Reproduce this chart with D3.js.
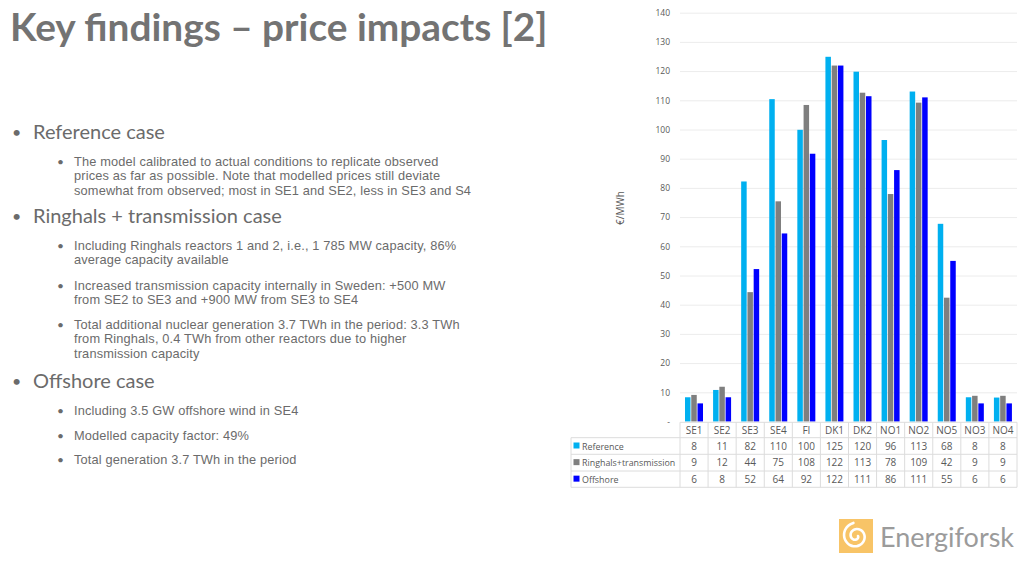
<html>
<head>
<meta charset="utf-8">
<script src="https://d3js.org/d3.v7.min.js"></script>
<style>
  body { margin: 0; background: #fff; }
  svg { display: block; font-family: Lato, "Open Sans", sans-serif; }
  .grid line { stroke: #ececec; }
  .grid .domain { stroke: none; }
  .y-axis .domain { stroke: none; }
  .y-axis text { font-size: 8.5px; fill: #595959; font-family: "Open Sans", sans-serif; }
  .tbl-line { stroke: #dcdcdc; stroke-width: 1; }
  .tbl-text { font-size: 10px; fill: #595959; font-family: "Open Sans", sans-serif; }
  .body-text { fill: #6b6b6b; }
  .sub-text { font-family: "Liberation Sans", Arial, sans-serif; letter-spacing: 0.15px; }
</style>
</head>
<body>
<svg id="slide" width="1024" height="563"></svg>
<script>
// chart data
const categories = ["SE1", "SE2", "SE3", "SE4", "FI", "DK1", "DK2", "NO1", "NO2", "NO5", "NO3", "NO4"];
const seriesNames = ["Reference", "Ringhals+transmission", "Offshore"];
const reference = [8.3, 10.8, 82.2, 110.4, 99.9, 124.9, 119.8, 96.4, 113.0, 67.7, 8.3, 8.2];
const ringhals = [9.1, 11.9, 44.3, 75.4, 108.4, 121.9, 112.6, 77.9, 109.2, 42.4, 8.8, 8.8];
const offshore = [6.2, 8.3, 52.2, 64.4, 91.7, 121.9, 111.4, 86.1, 111.0, 55.0, 6.2, 6.2];
const seriesColors = ["#00b0f0", "#7f7f7f", "#0000ff"];
const yTicks = [0, 10, 20, 30, 40, 50, 60, 70, 80, 90, 100, 110, 120, 130, 140];

// slide texts
const titleText = "Key findings \u2013 price impacts [2]";
const bullets = [
  {level: 1, y: 139, lines: ["Reference case"]},
  {level: 2, y: 166, lines: ["The model calibrated to actual conditions to replicate observed",
                             "prices as far as possible. Note that modelled prices still deviate",
                             "somewhat from observed; most in SE1 and SE2, less in SE3 and S4"]},
  {level: 1, y: 223, lines: ["Ringhals + transmission case"]},
  {level: 2, y: 250, lines: ["Including Ringhals reactors 1 and 2, i.e., 1 785 MW capacity, 86%",
                             "average capacity available"]},
  {level: 2, y: 290, lines: ["Increased transmission capacity internally in Sweden: +500 MW",
                             "from SE2 to SE3 and +900 MW from SE3 to SE4"]},
  {level: 2, y: 329, lines: ["Total additional nuclear generation 3.7 TWh in the period: 3.3 TWh",
                             "from Ringhals, 0.4 TWh from other reactors due to higher",
                             "transmission capacity"]},
  {level: 1, y: 388, lines: ["Offshore case"]},
  {level: 2, y: 415, lines: ["Including 3.5 GW offshore wind in SE4"]},
  {level: 2, y: 440, lines: ["Modelled capacity factor: 49%"]},
  {level: 2, y: 464, lines: ["Total generation 3.7 TWh in the period"]}
];

const svg = d3.select("#slide");

// title
svg.append("text")
  .attr("x", 10).attr("y", 41)
  .attr("font-size", 38.8).attr("font-weight", 700)
  .attr("fill", "#737373")
  .text(titleText);

// bullet list
bullets.forEach(b => {
  const bx = b.level === 1 ? 12 : 57;
  const tx = b.level === 1 ? 33 : 74;
  const fs = b.level === 1 ? 20 : 12.8;
  const lh = 14.4;
  svg.append("text").attr("class", "body-text")
    .attr("x", bx).attr("y", b.y - (b.level === 1 ? 1 : 0))
    .attr("font-size", b.level === 1 ? 16 : 12)
    .text("\u2022");
  // one text element per paragraph, lines as tspans
  const para = svg.append("text")
    .attr("class", b.level === 1 ? "body-text" : "body-text sub-text")
    .attr("x", tx).attr("y", b.y)
    .attr("font-size", fs);
  b.lines.forEach((ln, i) => {
    para.append("tspan")
      .attr("x", tx).attr("dy", i === 0 ? 0 : lh)
      .text(ln);
  });
});

// chart
const plotLeft = 680, plotRight = 1017, plotTop = 12.7, plotBottom = 421.5;
const x = d3.scaleBand().domain(categories).range([plotLeft, plotRight]);
const xInner = d3.scaleBand().domain(seriesNames).range([5, 23]).paddingInner(0.12);
const y = d3.scaleLinear().domain([0, 140]).range([plotBottom, plotTop]);

svg.append("g").attr("class", "grid")
  .attr("transform", `translate(${plotLeft},0)`)
  .call(d3.axisLeft(y).tickValues(yTicks.filter(d => d > 0)).tickSize(-(plotRight - plotLeft)).tickFormat(""));

svg.append("g").attr("class", "y-axis")
  .attr("transform", `translate(${plotLeft - 7},0)`)
  .call(d3.axisLeft(y).tickValues(yTicks).tickSize(0).tickPadding(3)
    .tickFormat(d => d === 0 ? "-" : d));

svg.append("text")
  .attr("transform", `translate(624,208) rotate(-90)`)
  .attr("text-anchor", "middle")
  .attr("font-size", 10).attr("font-family", "Open Sans, sans-serif")
  .attr("fill", "#595959")
  .text("\u20ac/MWh");

const seriesData = [reference, ringhals, offshore];
const barRows = [];
categories.forEach((c, i) => {
  seriesNames.forEach((s, j) => barRows.push({cat: c, series: s, value: seriesData[j][i], color: seriesColors[j]}));
});

svg.append("g").selectAll("rect")
  .data(barRows)
  .join("rect")
  .attr("x", d => x(d.cat) + xInner(d.series))
  .attr("y", d => y(d.value))
  .attr("width", xInner.bandwidth())
  .attr("height", d => y(0) - y(d.value))
  .attr("fill", d => d.color);

// data table
const tblLeft = 571;
const rowY = [422.3, 437.7, 454.3, 471, 487.3];
const tbl = svg.append("g");
tbl.append("line").attr("class", "tbl-line")
  .attr("x1", plotLeft).attr("x2", plotRight).attr("y1", rowY[0]).attr("y2", rowY[0]);
rowY.slice(1).forEach(ry => {
  tbl.append("line").attr("class", "tbl-line")
    .attr("x1", tblLeft).attr("x2", plotRight).attr("y1", ry).attr("y2", ry);
});
tbl.append("line").attr("class", "tbl-line")
  .attr("x1", tblLeft).attr("x2", tblLeft).attr("y1", rowY[1]).attr("y2", rowY[4]);
categories.concat([null]).forEach((c, i) => {
  const xx = c ? x(c) : plotRight;
  tbl.append("line").attr("class", "tbl-line")
    .attr("x1", xx).attr("x2", xx).attr("y1", rowY[0]).attr("y2", rowY[4]);
});

tbl.selectAll("text.head")
  .data(categories)
  .join("text")
  .attr("class", "tbl-text head")
  .attr("x", d => x(d) + x.bandwidth() / 2)
  .attr("y", (rowY[0] + rowY[1]) / 2 + 3.5)
  .attr("text-anchor", "middle")
  .text(d => d);

const fmt = d3.format(".0f");
seriesNames.forEach((s, j) => {
  const cy = (rowY[j + 1] + rowY[j + 2]) / 2;
  tbl.append("rect")
    .attr("x", tblLeft + 2.5).attr("y", cy - 3.5)
    .attr("width", 6).attr("height", 6)
    .attr("fill", seriesColors[j]);
  tbl.append("text").attr("class", "tbl-text")
    .attr("x", tblLeft + 11).attr("y", cy + 3.5)
    .style("font-size", "8.9px")
    .text(s);
  tbl.selectAll(null)
    .data(seriesData[j])
    .join("text")
    .attr("class", "tbl-text")
    .attr("x", (d, i) => x(categories[i]) + x.bandwidth() / 2)
    .attr("y", cy + 3.5)
    .attr("text-anchor", "middle")
    .text(d => fmt(d));
});

// logo
const logo = svg.append("g").attr("transform", "translate(839,519)");
logo.append("rect").attr("width", 34).attr("height", 34).attr("fill", "#f8c467");
const spiral = d3.lineRadial().curve(d3.curveCardinal);
const spiralPts = d3.range(0, 1.75 * 2 * Math.PI, 0.3).map(a => [a + Math.PI / 2, 2 + a * 1.05]);
logo.append("path")
  .attr("transform", "translate(17,17)")
  .attr("d", spiral(spiralPts))
  .attr("fill", "none").attr("stroke", "#fff").attr("stroke-width", 2.6).attr("stroke-linecap", "round");
svg.append("text")
  .attr("x", 880).attr("y", 547)
  .attr("font-size", 27).attr("fill", "#9b9b9b")
  .text("Energiforsk");
</script>
</body>
</html>
